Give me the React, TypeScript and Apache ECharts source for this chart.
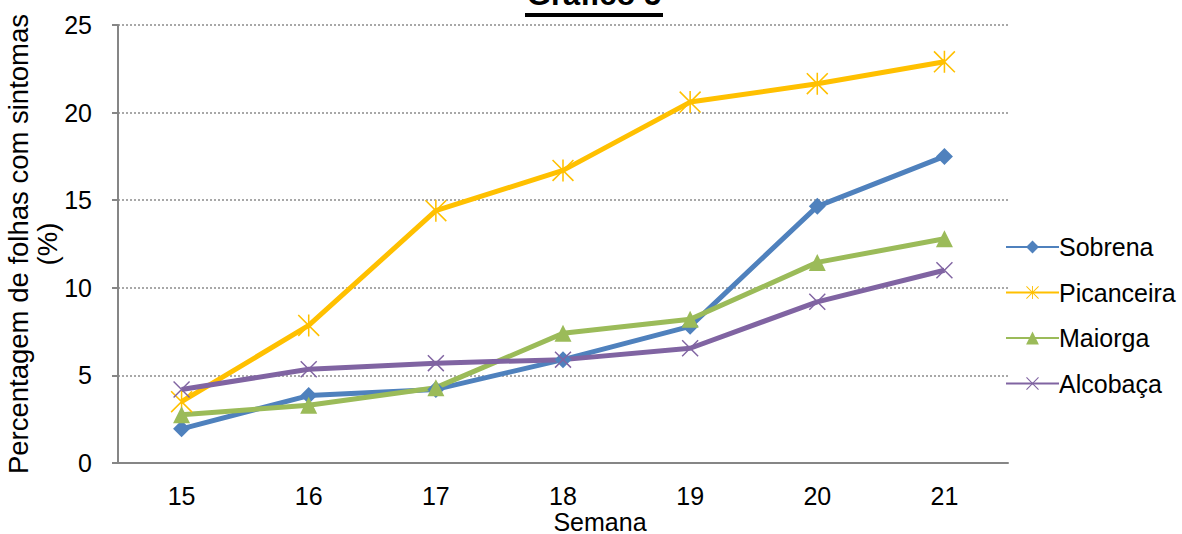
import React, { useEffect, useRef } from "react";
import * as echarts from "echarts";

const weeks = ["15", "16", "17", "18", "19", "20", "21"];
const sobrena = [1.95, 3.85, 4.2, 5.9, 7.8, 14.65, 17.5];
const picanceira = [3.5, 7.85, 14.4, 16.7, 20.6, 21.65, 22.9];
const maiorga = [2.75, 3.3, 4.3, 7.4, 8.2, 11.45, 12.8];
const alcobaca = [4.2, 5.35, 5.7, 5.9, 6.55, 9.2, 11.0];

const seriesNames = ["Sobrena", "Picanceira", "Maiorga", "Alcobaça"];
const colors = ["#4F81BD", "#FFC000", "#9BBB59", "#8064A2"];

const starPath =
  "path://M0,1L1,0L20,19L19,20Z M19,0L20,1L1,20L0,19Z M9.3,0L10.7,0L10.7,20L9.3,20Z";
const xPath = "path://M0,1.2L1.2,0L20,18.8L18.8,20Z M18.8,0L20,1.2L1.2,20L0,18.8Z";

export default function App() {
  const ref = useRef<HTMLDivElement>(null);
  useEffect(() => {
    const chart = echarts.init(ref.current!, null, { renderer: "svg" });
    const font = "Arial, 'Liberation Sans', sans-serif";
    const mk = (name: string, data: number[], color: string, symbol: string, size: number) => ({
      name,
      type: "line",
      data,
      symbol,
      symbolSize: size,
      showSymbol: true,
      lineStyle: { color, width: 5 },
      itemStyle: { color },
      z: 3,
    });
    chart.setOption({
      animation: false,
      textStyle: { fontFamily: font },
      grid: {
        left: 118,
        right: 174,
        top: 25,
        bottom: 71,
        containLabel: false,
        outerBoundsMode: "none",
      },
      graphic: [
        {
          type: "text",
          x: 594,
          y: 10,
          style: {
            text: "Gráfico 5",
            font: "bold 31px Arial, 'Liberation Sans', sans-serif",
            fill: "#000",
            textAlign: "center",
            textVerticalAlign: "bottom",
          },
        },
        {
          type: "rect",
          shape: { x: 525, y: 13, width: 138, height: 4 },
          style: { fill: "#000" },
        },
      ],
      legend: {
        orient: "vertical",
        left: 1000,
        top: 229,
        itemWidth: 53,
        itemHeight: 16,
        itemGap: 19.5,
        textStyle: { fontSize: 25, lineHeight: 26, color: "#000", fontFamily: font, padding: [0, 0, 0, -5] },
        data: seriesNames,
      },
      xAxis: {
        type: "category",
        data: weeks,
        boundaryGap: true,
        name: "Semana",
        nameLocation: "middle",
        nameGap: 46,
        nameMoveOverlap: false,
        nameTextStyle: { fontSize: 25, color: "#000", padding: [0, 0, 0, 74] },
        axisLine: { lineStyle: { color: "#868686", width: 2 } },
        axisTick: { alignWithLabel: true, length: 6, lineStyle: { color: "#868686", width: 2 } },
        axisLabel: { fontSize: 25, color: "#000", margin: 20 },
      },
      yAxis: {
        type: "value",
        min: 0,
        max: 25,
        interval: 5,
        name: "Percentagem de folhas com sintomas\n(%)",
        nameLocation: "middle",
        nameGap: 56,
        nameMoveOverlap: false,
        nameRotate: 90,
        nameTextStyle: { fontSize: 27.5, color: "#000", lineHeight: 29 },
        axisLine: { show: true, lineStyle: { color: "#868686", width: 2 } },
        axisTick: { show: true, length: 6, lineStyle: { color: "#868686", width: 2 } },
        axisLabel: { fontSize: 25, color: "#000", margin: 26 },
        splitLine: { lineStyle: { color: "#8c8c8c", type: [2, 2], width: 1.5 } },
      },
      series: [
        mk("Sobrena", sobrena, colors[0], "diamond", 17),
        mk("Picanceira", picanceira, colors[1], starPath, 22),
        mk("Maiorga", maiorga, colors[2], "triangle", 17),
        mk("Alcobaça", alcobaca, colors[3], xPath, 17),
      ],
    });
    return () => chart.dispose();
  }, []);
  return (
    <div
      ref={ref}
      style={{ position: "absolute", left: 0, top: 0, width: 1182, height: 534 }}
    />
  );
}
